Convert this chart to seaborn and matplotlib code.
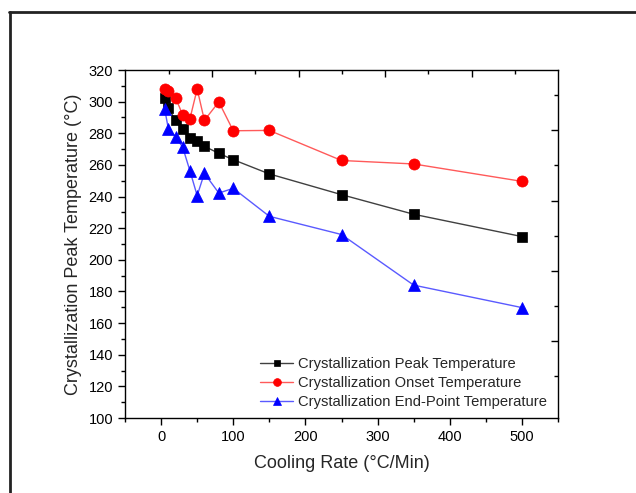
import numpy as np
import pandas as pd
import seaborn as sns
import matplotlib
matplotlib.use("Agg")
import matplotlib.pyplot as plt
from matplotlib.lines import Line2D
from matplotlib.ticker import MultipleLocator, FixedLocator

cooling_rate = [5, 10, 20, 30, 40, 50, 60, 80, 100, 150, 250, 350, 500]
peak_temp = [302.5, 295.8, 288.4, 282.5, 277.2, 274.9, 271.8, 267.3, 263.3, 254.3, 241.2, 228.8, 214.7]
onset_temp = [308.0, 307.0, 302.5, 291.5, 289.2, 308.0, 288.2, 299.8, 281.6, 281.8, 262.8, 260.6, 249.6]
end_temp = [295.3, 283.0, 277.9, 271.1, 256.2, 240.6, 254.7, 242.2, 245.2, 227.5, 216.0, 184.0, 169.8]

series_names = ["Crystallization Peak Temperature",
                "Crystallization Onset Temperature",
                "Crystallization End-Point Temperature"]

df = pd.DataFrame({
    "rate": cooling_rate * 3,
    "temp": peak_temp + onset_temp + end_temp,
    "series": [series_names[0]] * len(cooling_rate)
              + [series_names[1]] * len(cooling_rate)
              + [series_names[2]] * len(cooling_rate),
})

sns.set_theme(style="white")
plt.rcParams["font.family"] = ["Liberation Sans", "DejaVu Sans"]

fig = plt.figure(figsize=(6.36, 4.93), dpi=100)
ax = fig.add_axes([125 / 636, 1 - 418 / 493, (558 - 125) / 636, (418 - 70) / 493])

styles = [
    dict(line="#404040", mfc="black", marker="s", ms=7),
    dict(line="#ff5a5a", mfc="#ff0000", marker="o", ms=8),
    dict(line="#5a5aff", mfc="#0000ff", marker="^", ms=8.5),
]
for name, st in zip(series_names, styles):
    sub = df[df["series"] == name]
    sns.lineplot(data=sub, x="rate", y="temp", ax=ax, color=st["line"], lw=1.0,
                 marker=st["marker"], markersize=st["ms"], markerfacecolor=st["mfc"],
                 markeredgecolor=st["mfc"], markeredgewidth=0.5, label=name,
                 estimator=None, sort=False)

ax.set_xlim(-50, 550)
ax.set_ylim(100, 320)
ax.xaxis.set_major_locator(MultipleLocator(100))
ax.xaxis.set_minor_locator(MultipleLocator(50))
ax.yaxis.set_major_locator(MultipleLocator(20))
ax.yaxis.set_minor_locator(MultipleLocator(10))
ax.tick_params(which="both", direction="out", bottom=True, left=True, top=False, right=False,
               colors="black", labelsize=10.5)
ax.tick_params(which="major", length=5, width=1)
ax.tick_params(which="minor", length=3, width=1)
for s in ax.spines.values():
    s.set_color("black")
    s.set_linewidth(1.0)

ax.set_xlabel("Cooling Rate (°C/Min)", fontsize=13, labelpad=8)
ax.set_ylabel("Crystallization Peak Temperature (°C)", fontsize=13, labelpad=5)

# mirrored top / right axes (inward ticks, own spacing)
top = ax.twiny()
top.set_xlim(ax.get_xlim())
top.xaxis.set_major_locator(FixedLocator([70.5, 190.5, 310.5, 430.5]))
top.xaxis.set_minor_locator(FixedLocator([10.5, 130.5, 250.5, 370.5, 490.5]))
top.tick_params(which="both", direction="in", top=True, labeltop=False, bottom=False, width=1, colors="black")
top.tick_params(which="major", length=5)
top.tick_params(which="minor", length=3)
right = ax.twinx()
right.set_ylim(ax.get_ylim())
right.yaxis.set_major_locator(FixedLocator([281.9, 237.4, 193.0, 148.8]))
right.yaxis.set_minor_locator(FixedLocator([304.2, 259.8, 215.3, 170.9, 126.7]))
right.tick_params(which="both", direction="in", right=True, labelright=False, left=False, width=1, colors="black")
right.tick_params(which="major", length=5)
right.tick_params(which="minor", length=3)
for a in (top, right):
    a.grid(False)
    for s in a.spines.values():
        s.set_visible(False)

leg = ax.legend(loc="lower right", frameon=False, fontsize=10.6, handlelength=2.2,
                handletextpad=0.35, labelspacing=0.35, borderaxespad=0.2,
                markerscale=0.7, bbox_to_anchor=(0.995, 0.0))

# figure frame (top and left border)
fig.add_artist(Line2D([9 / 636, 1.0], [1 - 12 / 493, 1 - 12 / 493], color="#222222", lw=2,
                      transform=fig.transFigure))
fig.add_artist(Line2D([10 / 636, 10 / 636], [0, 1 - 12 / 493], color="#222222", lw=2,
                      transform=fig.transFigure))

fig.savefig("out.png", dpi=100)
